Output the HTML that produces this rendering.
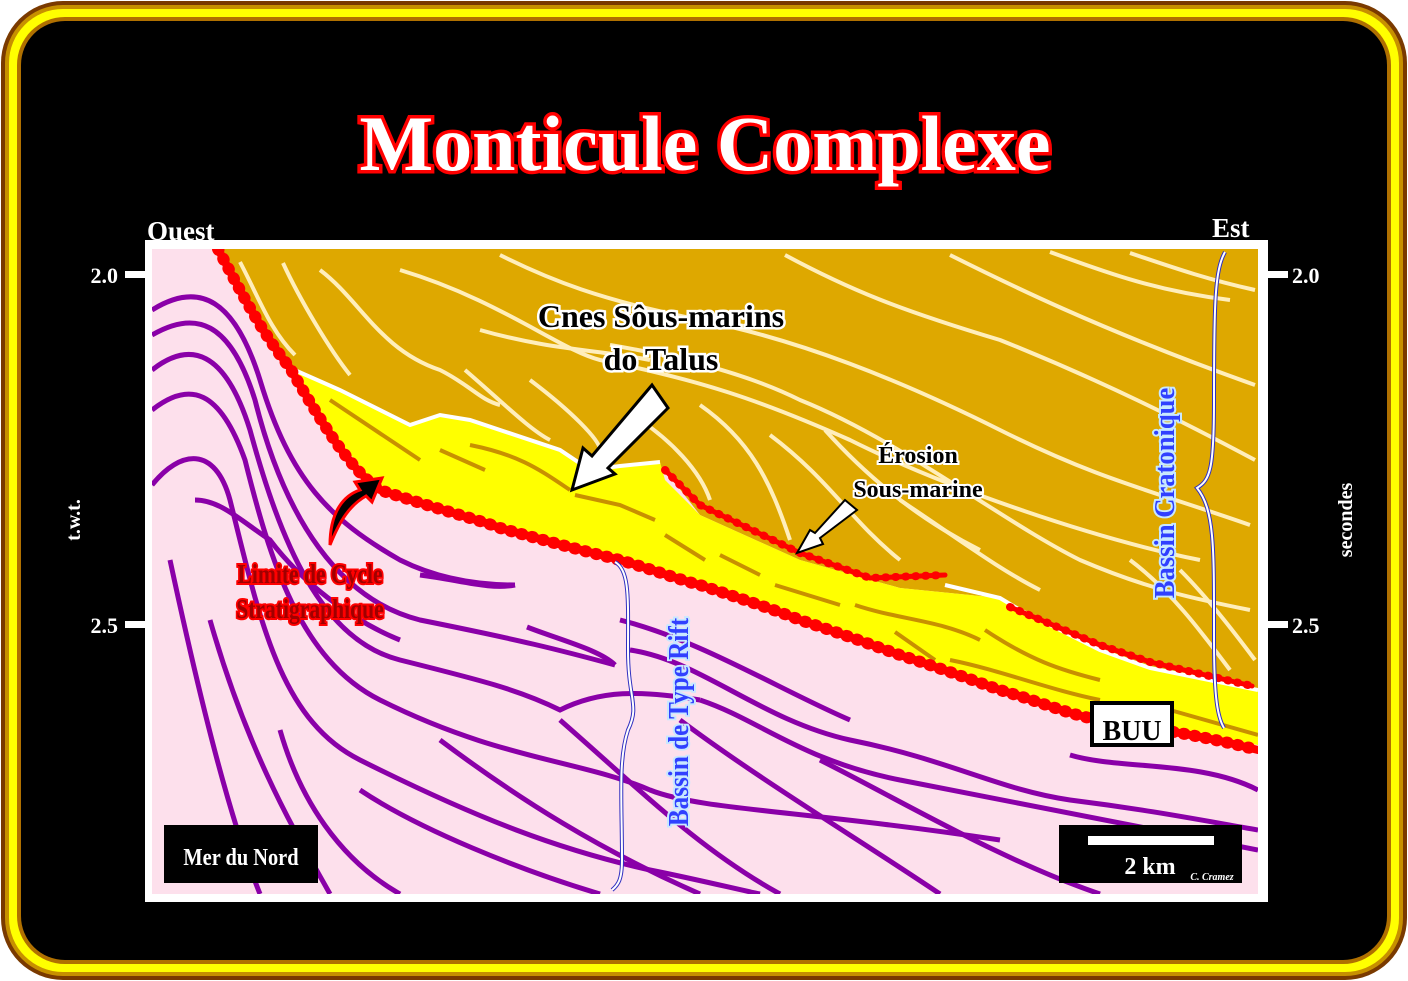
<!DOCTYPE html>
<html><head><meta charset="utf-8"><style>
html,body{margin:0;padding:0;background:#fff;}
svg{display:block;}
text{font-family:"Liberation Serif",serif;font-weight:bold;}
</style></head><body>
<svg width="1408" height="981" viewBox="0 0 1408 981" xmlns="http://www.w3.org/2000/svg">
<rect x="0" y="0" width="1408" height="981" fill="#fff"/>
<rect x="1" y="1" width="1406" height="979" rx="62" fill="#7a3a00"/>
<rect x="5" y="5" width="1398" height="971" rx="58" fill="#c79000"/>
<rect x="9" y="9" width="1390" height="963" rx="54" fill="#ffff00"/>
<rect x="17" y="17" width="1374" height="947" rx="48" fill="#b07000"/>
<rect x="21" y="21" width="1366" height="939" rx="44" fill="#000"/>

<text x="705" y="170" text-anchor="middle" font-size="78" fill="#fff" stroke="#ff0000" stroke-width="7" paint-order="stroke">Monticule Complexe</text>

<text x="147" y="240" font-size="27" fill="#fff">Ouest</text>
<text x="1212" y="237" font-size="27" fill="#fff">Est</text>
<text x="118" y="283" text-anchor="end" font-size="22" fill="#fff">2.0</text>
<text x="118" y="633" text-anchor="end" font-size="22" fill="#fff">2.5</text>
<text x="1292" y="283" font-size="22" fill="#fff">2.0</text>
<text x="1292" y="633" font-size="22" fill="#fff">2.5</text>
<rect x="125" y="271" width="22" height="7" fill="#fff"/>
<rect x="125" y="621" width="22" height="7" fill="#fff"/>
<rect x="1266" y="271" width="22" height="7" fill="#fff"/>
<rect x="1266" y="621" width="22" height="7" fill="#fff"/>
<text transform="translate(80,520) rotate(-90)" text-anchor="middle" font-size="20" fill="#fff">t.w.t.</text>
<text transform="translate(1352,520) rotate(-90)" text-anchor="middle" font-size="20" fill="#fff">secondes</text>

<rect x="145" y="240" width="1123" height="662" fill="#fff"/>
<svg x="152" y="249" width="1106" height="645" viewBox="152 249 1106 645" overflow="hidden">
<rect x="152" y="249" width="1106" height="645" fill="#fde0ec"/>
<g fill="none" stroke="#8a00a8" stroke-width="5" stroke-linecap="butt">
<path d="M152,310 C200,280 235,300 260,380 C290,480 330,520 400,560 C440,580 480,585 515,585"/>
<path d="M152,335 C195,310 230,320 255,400 C285,520 340,600 420,620 C520,640 560,650 615,665"/>
<path d="M152,370 C190,340 225,350 250,430 C280,540 320,640 400,660 C480,680 520,690 560,710 C600,690 640,690 700,700"/>
<path d="M152,410 C190,380 220,390 245,460 C270,560 300,660 380,700 C500,760 580,760 650,790 C700,810 800,810 1000,840"/>
<path d="M152,485 C180,450 215,445 230,500 C260,620 280,720 360,760 C480,820 560,850 650,870 C700,880 740,890 760,894"/>
<path d="M195,500 C220,500 240,520 270,540 C300,580 350,620 400,640"/>
<path d="M420,575 C460,580 490,590 515,585"/>
<path d="M527,627 C560,640 600,650 615,665"/>
<path d="M700,700 C760,720 800,760 900,780 C1000,800 1100,820 1258,850"/>
<path d="M630,650 C700,660 760,720 850,740 C950,760 1000,790 1070,800 C1150,810 1200,820 1258,830"/>
<path d="M620,620 C700,640 780,690 850,720"/>
<path d="M1070,755 C1120,770 1200,760 1258,790"/>
<path d="M280,730 C300,800 340,860 400,894"/>
<path d="M210,620 C250,760 300,840 330,894"/>
<path d="M170,560 C200,700 230,820 260,894"/>
<path d="M360,790 C420,830 520,870 600,894"/>
<path d="M440,740 C520,800 600,850 700,894"/>
<path d="M560,720 C640,790 700,850 780,894"/>
<path d="M680,720 C760,780 860,840 940,894"/>
<path d="M820,760 C900,800 1000,860 1100,894"/>
</g>
<path d="M218,249 L1258,249 L1258,690 L1150,668 L1100,650 L1020,610 L1000,598 L900,588 L800,560 L700,515 L665,470 L620,466 L590,470 L560,450 L470,420 L440,415 L410,425 L340,390 L290,368 Z" fill="#dea800"/>
<path d="M290,368 L340,390 L410,425 L440,415 L470,420 L560,450 L590,470 L620,466 L660,462 L665,480 L700,515 L800,560 L900,588 L1000,598 L1020,610 L1100,650 L1150,668 L1258,690 L1258,745 L1100,720 L1000,690 L900,655 L800,620 L700,585 L620,560 L500,528 L380,490 L330,430 Z" fill="#ffff00"/>
<path d="M290,368 L340,390 L410,425 L440,415 L470,420 L560,450 L590,470 L620,466 L660,462" fill="none" stroke="#fff" stroke-width="4"/>
<path d="M945,585 L1000,598 L1020,610 L1100,650 L1150,668 L1258,690" fill="none" stroke="#fff" stroke-width="4"/>
<g fill="none" stroke="#ffeebb" stroke-width="4">
<path d="M240,262 C260,300 270,330 295,355"/>
<path d="M283,263 C300,300 330,350 350,375"/>
<path d="M320,270 C360,300 380,350 440,370 C470,385 480,400 500,405"/>
<path d="M400,270 C500,300 560,350 600,360 C700,380 760,400 850,440 C950,490 1100,540 1200,560"/>
<path d="M480,330 C550,350 600,350 650,360"/>
<path d="M500,255 C550,280 600,300 700,320 C800,340 900,380 1000,430 C1100,480 1150,490 1250,525"/>
<path d="M610,345 C700,360 760,380 800,400 C900,440 1000,520 1080,560 C1150,590 1200,600 1250,610"/>
<path d="M785,255 C850,290 900,310 1000,340 C1100,380 1180,420 1255,460"/>
<path d="M950,255 C1000,280 1100,330 1255,385"/>
<path d="M1130,253 C1180,270 1210,280 1255,290"/>
<path d="M1050,252 C1100,270 1150,290 1230,300"/>
<path d="M465,370 C500,400 530,430 550,440"/>
<path d="M530,380 C570,410 600,440 600,450"/>
<path d="M640,420 C670,440 700,470 710,500"/>
<path d="M700,405 C750,440 770,480 790,540"/>
<path d="M770,435 C830,480 850,520 900,560"/>
<path d="M825,430 C870,480 920,520 980,550"/>
<path d="M1130,560 C1170,590 1200,630 1230,670"/>
<path d="M1180,570 C1210,600 1240,640 1255,660"/>
<path d="M900,500 C960,540 1000,570 1040,590"/>
</g>
<g fill="none" stroke="#c89000" stroke-width="4">
<path d="M330,400 L420,460"/>
<path d="M440,450 L485,470"/>
<path d="M470,445 C520,455 540,470 570,490"/>
<path d="M575,495 L620,505 L655,520"/>
<path d="M665,535 L705,560"/>
<path d="M720,555 L760,575"/>
<path d="M775,585 L840,605"/>
<path d="M855,605 C900,620 940,620 980,640"/>
<path d="M985,630 C1030,660 1060,670 1100,680"/>
<path d="M895,632 L935,660"/>
<path d="M950,660 C1000,670 1050,690 1100,700"/>
<path d="M1170,710 L1258,735"/>
</g>
<g fill="none" stroke="#ff0000" stroke-linecap="round">
<path id="unc" d="M218,249 C240,290 260,330 290,368 C320,420 350,470 380,490 C440,510 480,520 500,528 C560,545 600,555 620,560 C660,572 680,580 700,585 C760,605 780,612 800,620 C860,640 880,648 900,655 C960,675 980,683 1000,690 C1050,705 1070,715 1100,720 C1150,728 1200,735 1258,750" stroke-width="8"/>
<path d="M218,249 C240,290 260,330 290,368 C320,420 350,470 380,490 C440,510 480,520 500,528 C560,545 600,555 620,560 C660,572 680,580 700,585 C760,605 780,612 800,620 C860,640 880,648 900,655 C960,675 980,683 1000,690 C1050,705 1070,715 1100,720 C1150,728 1200,735 1258,750" stroke-width="12" stroke-dasharray="1 10"/>
<path d="M665,470 L700,505 L800,553 L870,578 L945,575" stroke-width="5"/>
<path d="M665,470 L700,505 L800,553 L870,578 L945,575" stroke-width="8" stroke-dasharray="1 9"/>
<path d="M1010,607 L1100,645 L1150,662 L1252,686" stroke-width="5"/>
<path d="M1010,607 L1100,645 L1150,662 L1252,686" stroke-width="8" stroke-dasharray="1 9"/>
</g>
<path d="M615,562 C630,570 628,600 628,650 C628,700 640,705 628,730 C618,760 622,800 622,860 C622,880 618,885 612,890" fill="none" stroke="#3030c0" stroke-width="4"/>
<path d="M615,562 C630,570 628,600 628,650 C628,700 640,705 628,730 C618,760 622,800 622,860 C622,880 618,885 612,890" fill="none" stroke="#fff" stroke-width="2"/>
<path d="M1225,252 C1215,270 1214,300 1214,400 C1214,470 1210,480 1197,488 C1215,510 1214,550 1214,640 C1214,700 1218,718 1224,728" fill="none" stroke="#3030c0" stroke-width="4"/>
<path d="M1225,252 C1215,270 1214,300 1214,400 C1214,470 1210,480 1197,488 C1215,510 1214,550 1214,640 C1214,700 1218,718 1224,728" fill="none" stroke="#fff" stroke-width="2"/>
<path d="M652,385 L668,408 L608,468 L615,474 L572,490 L583,448 L592,456 Z" fill="#fff" stroke="#000" stroke-width="3"/>
<path d="M845,500 L857,510 L820,538 L823,544 L797,553 L810,530 L815,533 Z" fill="#fff" stroke="#000" stroke-width="2"/>
<path d="M330,545 C330,510 345,495 360,490 L355,482 L382,478 L372,502 L366,496 C350,505 340,520 330,545 Z" fill="#000" stroke="#ff0000" stroke-width="3"/>
<rect x="164" y="825" width="154" height="58" fill="#000"/>
<text x="241" y="865" text-anchor="middle" font-size="24" fill="#fff" font-weight="normal" transform="translate(241,0) scale(0.85,1) translate(-241,0)">Mer du Nord</text>
<rect x="1059" y="825" width="183" height="58" fill="#000"/>
<rect x="1088" y="836" width="126" height="9" fill="#fff"/>
<text x="1150" y="874" text-anchor="middle" font-size="24" fill="#fff" font-weight="normal">2 km</text>
<text x="1212" y="880" text-anchor="middle" font-size="10" fill="#fff" font-style="italic" font-weight="normal">C. Cramez</text>
<rect x="1092" y="703" width="80" height="42" fill="#fff" stroke="#000" stroke-width="4"/>
<text x="1132" y="740" text-anchor="middle" font-size="28" fill="#000" font-weight="normal">BUU</text>
</svg>

<g font-size="32" fill="#000" stroke="#fff" stroke-width="5" paint-order="stroke">
<text x="661" y="327" text-anchor="middle">Cnes Sôus-marins</text>
<text x="661" y="370" text-anchor="middle">do Talus</text>
</g>
<g font-size="24" fill="#000" stroke="#fff" stroke-width="4" paint-order="stroke">
<text x="918" y="463" text-anchor="middle">Érosion</text>
<text x="918" y="497" text-anchor="middle">Sous-marine</text>
</g>
<g font-size="27" fill="#a00000" stroke="#ff0000" stroke-width="4" paint-order="stroke">
<text x="310" y="583" text-anchor="middle" transform="translate(310,0) scale(0.8,1) translate(-310,0)">Limite de Cycle</text>
<text x="310" y="618" text-anchor="middle" transform="translate(310,0) scale(0.8,1) translate(-310,0)">Stratigraphique</text>
</g>
<g font-size="28" fill="#3040ff" stroke="#c8e8ff" stroke-width="4" paint-order="stroke">
<text transform="translate(688,722) rotate(-90) scale(0.9,1)" text-anchor="middle">Bassin de Type Rift</text>
<text transform="translate(1174,493) rotate(-90) scale(0.95,1)" text-anchor="middle">Bassin Cratonique</text>
</g>
</svg>
</body></html>
